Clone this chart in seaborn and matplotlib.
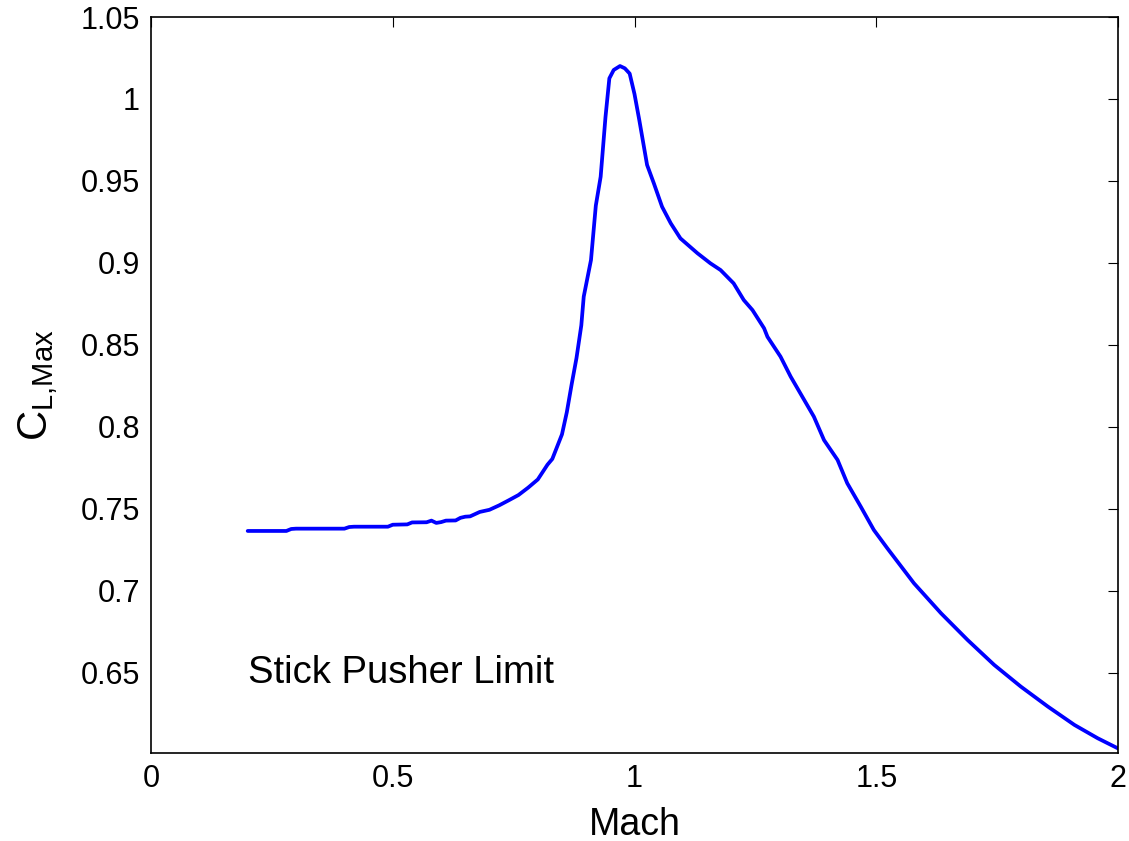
import matplotlib
matplotlib.use("Agg")
import matplotlib.pyplot as plt
import seaborn as sns
import pandas as pd

mach = [0.200, 0.280, 0.290, 0.300, 0.400, 0.410, 0.420, 0.490, 0.500, 0.530,
        0.540, 0.570, 0.580, 0.590, 0.600, 0.610, 0.630, 0.640, 0.650, 0.660,
        0.680, 0.700, 0.720, 0.740, 0.760, 0.780, 0.800, 0.810, 0.820, 0.830,
        0.840, 0.850, 0.860, 0.870, 0.880, 0.890, 0.895, 0.910, 0.920, 0.930,
        0.940, 0.948, 0.957, 0.970, 0.980, 0.990, 1.000, 1.010, 1.026, 1.040,
        1.057, 1.075, 1.095, 1.130, 1.157, 1.178, 1.205, 1.226, 1.244, 1.268,
        1.275, 1.302, 1.323, 1.347, 1.371, 1.392, 1.420, 1.440, 1.468, 1.495,
        1.523, 1.578, 1.634, 1.689, 1.744, 1.799, 1.855, 1.910, 1.958, 2.000]
cl_max = [0.7366, 0.7366, 0.7378, 0.7380, 0.7380, 0.7390, 0.7392, 0.7392, 0.7404, 0.7406,
          0.7418, 0.7419, 0.7429, 0.7415, 0.7420, 0.7429, 0.7430, 0.7446, 0.7453, 0.7455,
          0.7482, 0.7495, 0.7522, 0.7553, 0.7585, 0.7630, 0.7680, 0.7725, 0.7770, 0.7805,
          0.7880, 0.7955, 0.8090, 0.8260, 0.8420, 0.8620, 0.8795, 0.9018, 0.9350, 0.9526,
          0.9890, 1.0126, 1.0177, 1.0201, 1.0187, 1.0155, 1.0030, 0.9870, 0.9598, 0.9486,
          0.9343, 0.9242, 0.9150, 0.9060, 0.8998, 0.8957, 0.8876, 0.8774, 0.8713, 0.8602,
          0.8550, 0.8429, 0.8307, 0.8185, 0.8063, 0.7920, 0.7799, 0.7657, 0.7514, 0.7372,
          0.7260, 0.7047, 0.6864, 0.6701, 0.6549, 0.6417, 0.6295, 0.6183, 0.6102, 0.6040]

x_ticks = [0, 0.5, 1, 1.5, 2]
x_tick_labels = ["0", "0.5", "1", "1.5", "2"]
y_ticks = [0.65, 0.7, 0.75, 0.8, 0.85, 0.9, 0.95, 1.0, 1.05]
y_tick_labels = ["0.65", "0.7", "0.75", "0.8", "0.85", "0.9", "0.95", "1", "1.05"]
annotation = "Stick Pusher Limit"

sns.set_theme(style="white")
plt.rcParams["font.family"] = ["Liberation Sans", "DejaVu Sans"]
plt.rcParams["mathtext.fontset"] = "custom"
plt.rcParams["mathtext.rm"] = "Liberation Sans"
plt.rcParams["text.color"] = "black"
plt.rcParams["axes.labelcolor"] = "black"

df = pd.DataFrame({"Mach": mach, "CL": cl_max})

fig = plt.figure(figsize=(11.29, 8.41), dpi=100)
ax = fig.add_axes([151 / 1129, 1 - 753 / 841, (1118 - 151) / 1129, (753 - 17) / 841])

sns.lineplot(data=df, x="Mach", y="CL", ax=ax, color="#0000ff", linewidth=2.7,
             estimator=None, sort=False)

ax.set_xlim(0, 2)
ax.set_ylim(0.6012, 1.05)
ax.set_xticks(x_ticks)
ax.set_xticklabels(x_tick_labels)
ax.set_yticks(y_ticks)
ax.set_yticklabels(y_tick_labels)
ax.tick_params(axis="both", direction="in", length=7, width=0.8, labelsize=22,
               top=True, right=True, colors="black", labelcolor="black", pad=8)
for s in ax.spines.values():
    s.set_color("black")
    s.set_linewidth(1.2)

ax.set_xlabel("Mach", fontsize=27, labelpad=9, color="black")
ax.set_ylabel(r"$\mathregular{C_{L{,}Max}}$", fontsize=30, color="black")
ax.yaxis.set_label_coords(-0.094, 0.50)

ax.text(0.2, 0.65, annotation, fontsize=27.5, va="center", ha="left", color="black")

fig.savefig("out.png", dpi=100)
